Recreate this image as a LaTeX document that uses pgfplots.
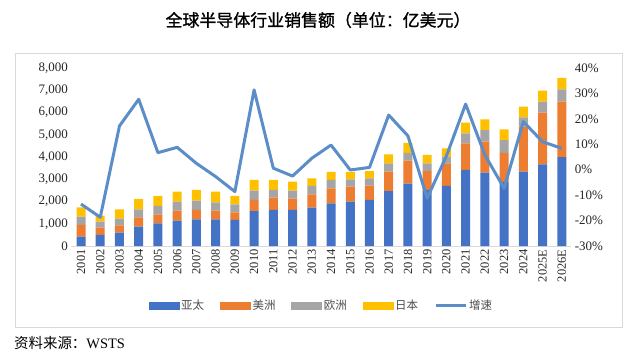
\documentclass[border=0pt]{standalone}
\usepackage{fontspec}
\setmainfont{Liberation Serif}
\newfontfamily\cjk{Noto Sans CJK SC}
\newfontfamily\cjkb[FakeBold=1.2]{Noto Sans CJK SC}
\usepackage{pgfplots}
\usepackage{pgfplotstable}
\pgfplotsset{compat=1.18}
\definecolor{c1}{HTML}{4472C4}
\definecolor{c2}{HTML}{ED7D31}
\definecolor{c3}{HTML}{A5A5A5}
\definecolor{c4}{HTML}{FFC000}
\definecolor{lc}{HTML}{5B8DC8}
\definecolor{frame}{HTML}{D9D9D9}
\definecolor{tl}{HTML}{262626}
\pgfplotstableread{
idx label asia amer eu jp g
0 2001 420 525 375 420 -13.5
1 2002 495 330 275 270 -18.7
2 2003 600 330 300 420 17.2
3 2004 870 420 360 460 27.7
4 2005 1020 400 380 450 6.7
5 2006 1140 450 400 450 8.8
6 2007 1200 420 420 480 2.5
7 2008 1200 390 370 480 -2.7
8 2009 1170 340 360 380 -8.6
9 2010 1570 500 420 480 31.4
10 2011 1620 550 350 450 0.6
11 2012 1620 510 360 400 -2.5
12 2013 1720 600 380 340 4.5
13 2014 1920 670 380 360 9.7
14 2015 1990 680 330 330 -0.1
15 2016 2070 640 330 330 0.9
16 2017 2470 870 370 410 21.5
17 2018 2800 1040 350 450 13.3
18 2019 2520 850 340 390 -11.2
19 2020 2700 1010 310 370 5.4
20 2021 3420 1190 450 480 25.8
21 2022 3300 1390 520 480 5.8
22 2023 2880 1310 570 480 -7.3
23 2024 3340 2020 420 480 18.9
24 2025E 3670 2320 500 490 11.0
25 2026E 3990 2500 550 520 8.4
}\data
\begin{document}
\begin{tikzpicture}[x=1bp,y=1bp]
\useasboundingbox (0,0) rectangle (640,357);
\draw[frame, line width=0.8bp] (15,30) rectangle (622,304);
\node[font=\cjkb\fontsize{17}{17}\selectfont, text=black] at (318,337) {全球半导体行业销售额（单位：亿美元）};
\node[anchor=west, font=\fontsize{14.5}{15}\selectfont, text=black, inner sep=0] at (14,14) {{\cjk 资料来源：}WSTS};
\begin{axis}[
  at={(71.4bp,111bp)}, anchor=south west, scale only axis,
  width=500bp, height=178bp,
  xmin=-0.5, xmax=25.5, ymin=0, ymax=8000,
  ybar stacked, bar width=9bp,
  xtick={0,...,25},
  xticklabels from table={\data}{label},
  x tick label style={rotate=90, anchor=east, font=\fontsize{12.5}{13}\selectfont, text=tl},
  ytick={0,1000,...,8000},
  yticklabels={0,{1,000},{2,000},{3,000},{4,000},{5,000},{6,000},{7,000},{8,000}},
  y tick label style={font=\fontsize{13}{13}\selectfont, text=tl},
  major tick length=0pt,
  axis x line*=bottom, axis y line*=left,
  y axis line style={draw=none},
  x axis line style={draw=frame, line width=0.8bp},
]
\addplot[fill=c1, draw=none] table[x=idx,y=asia]{\data};
\addplot[fill=c2, draw=none] table[x=idx,y=amer]{\data};
\addplot[fill=c3, draw=none] table[x=idx,y=eu]{\data};
\addplot[fill=c4, draw=none] table[x=idx,y=jp]{\data};
\end{axis}
\begin{axis}[
  at={(71.4bp,111bp)}, anchor=south west, scale only axis,
  width=500bp, height=178bp,
  xmin=-0.5, xmax=25.5, ymin=-30, ymax=40,
  axis x line=none, axis y line*=right,
  y axis line style={draw=none},
  ytick={-30,-20,...,40},
  yticklabels={-30\%,-20\%,-10\%,0\%,10\%,20\%,30\%,40\%},
  y tick label style={font=\fontsize{13}{13}\selectfont, text=tl},
  major tick length=0pt,
  legend style={at={(axis description cs:0.5,-0.335)}, anchor=center, draw=none,
    legend columns=5, font=\cjk\fontsize{11.5}{12}\selectfont, text=black!70,
    /tikz/every even column/.append style={column sep=14bp}},
  legend cell align=left,
]
\addlegendimage{legend image code/.code={\fill[c1] (0bp,-3.5bp) rectangle (30bp,3.5bp);}}
\addlegendentry{亚太}
\addlegendimage{legend image code/.code={\fill[c2] (0bp,-3.5bp) rectangle (30bp,3.5bp);}}
\addlegendentry{美洲}
\addlegendimage{legend image code/.code={\fill[c3] (0bp,-3.5bp) rectangle (30bp,3.5bp);}}
\addlegendentry{欧洲}
\addlegendimage{legend image code/.code={\fill[c4] (0bp,-3.5bp) rectangle (30bp,3.5bp);}}
\addlegendentry{日本}
\addplot[lc, line width=3bp, mark=none, line join=round,
  legend image code/.code={\draw[lc, line width=3bp] (0bp,0bp) -- (30bp,0bp);}]
  table[x=idx,y=g]{\data};
\addlegendentry{增速}
\end{axis}
\end{tikzpicture}
\end{document}
